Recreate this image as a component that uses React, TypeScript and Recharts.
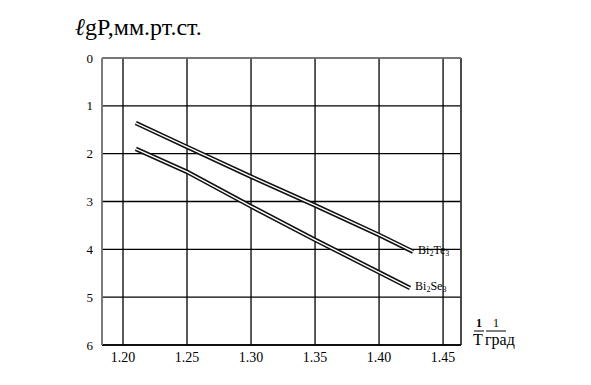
import { LineChart, Line, XAxis, YAxis, CartesianGrid, ReferenceLine } from "recharts";

// 1/T (x) vs lgP (y)
const bi2te3X = [1.21, 1.25, 1.3, 1.35, 1.4, 1.4266];
const bi2te3Y = [1.36, 1.86, 2.48, 3.08, 3.7, 4.05];
const bi2se3X = [1.21, 1.25, 1.3, 1.35, 1.4, 1.4242];
const bi2se3Y = [1.9, 2.38, 3.1, 3.8, 4.48, 4.81];
const xTicks = [1.2, 1.25, 1.3, 1.35, 1.4, 1.45];
const yTicks = [0, 1, 2, 3, 4, 5, 6];

const te = bi2te3X.map((x, i) => ({ x, y: bi2te3Y[i] }));
const se = bi2se3X.map((x, i) => ({ x, y: bi2se3Y[i] }));

const serif = `"Liberation Serif", monospace`;

function endLabel(name: string, last: number) {
  return (props: any) => {
    if (props.index !== last) return null;
    return (
      <text x={props.x + 5} y={props.y + 2} style={{ fontFamily: serif }} fontSize={12} fill="#000">
        Bi
        <tspan fontSize={8} dy={2}>2</tspan>
        <tspan dy={-2}>{name}</tspan>
        <tspan fontSize={8} dy={2}>3</tspan>
      </text>
    );
  };
}

export default function App() {
  return (
    <div style={{ position: "absolute", left: 0, top: 0, width: 591, height: 385, background: "#fff" }}>
      <div style={{ position: "absolute", left: 75, top: 12, fontFamily: serif, fontSize: 24, color: "#000", lineHeight: "30px" }}>
        <i>ℓ</i>gP,мм.рт.ст.
      </div>
      <LineChart width={591} height={385} margin={{ top: 58, right: 130, bottom: 0, left: 0 }}>
        <CartesianGrid stroke="#000" strokeWidth={1.3} />
        <XAxis
          type="number"
          dataKey="x"
          domain={[1.1836, 1.464]}
          ticks={xTicks}
          tickFormatter={(v: number) => v.toFixed(2)}
          height={40}
          tickSize={0}
          tickMargin={7}
          axisLine={{ stroke: "#000", strokeWidth: 1.5 }}
          tick={{ fill: "#000", style: { fontFamily: serif }, fontSize: 14 }}
          allowDataOverflow
        />
        <YAxis
          type="number"
          dataKey="y"
          reversed
          domain={[0, 6]}
          ticks={yTicks}
          width={102}
          tickSize={0}
          tickMargin={9}
          axisLine={{ stroke: "#888", strokeWidth: 1.5 }}
          tick={{ fill: "#000", style: { fontFamily: serif }, fontSize: 13 }}
        />
        <ReferenceLine x={1.464} stroke="#444" strokeWidth={1.5} />
        <ReferenceLine y={0} stroke="#888" strokeWidth={1.5} />
        <Line data={te} dataKey="y" stroke="#111" strokeWidth={4.5} dot={false} isAnimationActive={false} />
        <Line
          data={te}
          dataKey="y"
          stroke="#fff"
          strokeWidth={1.4}
          dot={false}
          isAnimationActive={false}
          label={endLabel("Te", te.length - 1)}
        />
        <Line data={se} dataKey="y" stroke="#111" strokeWidth={4.5} dot={false} isAnimationActive={false} />
        <Line
          data={se}
          dataKey="y"
          stroke="#fff"
          strokeWidth={1.4}
          dot={false}
          isAnimationActive={false}
          label={endLabel("Se", se.length - 1)}
        />
        <text style={{ fontFamily: serif }} fill="#000">
          <tspan x={476} y={327} fontSize={12} fontWeight="bold">1</tspan>
          <tspan x={493} y={327} fontSize={12}>1</tspan>
        </text>
        <line x1={474} y1={331} x2={484} y2={331} stroke="#000" strokeWidth={1} />
        <line x1={486} y1={331} x2={506} y2={331} stroke="#000" strokeWidth={1} />
        <text x={473} y={345} style={{ fontFamily: serif }} fontSize={16} fill="#000">T</text>
        <text x={485} y={345} style={{ fontFamily: serif }} fontSize={16} fill="#000">град</text>
      </LineChart>
    </div>
  );
}
